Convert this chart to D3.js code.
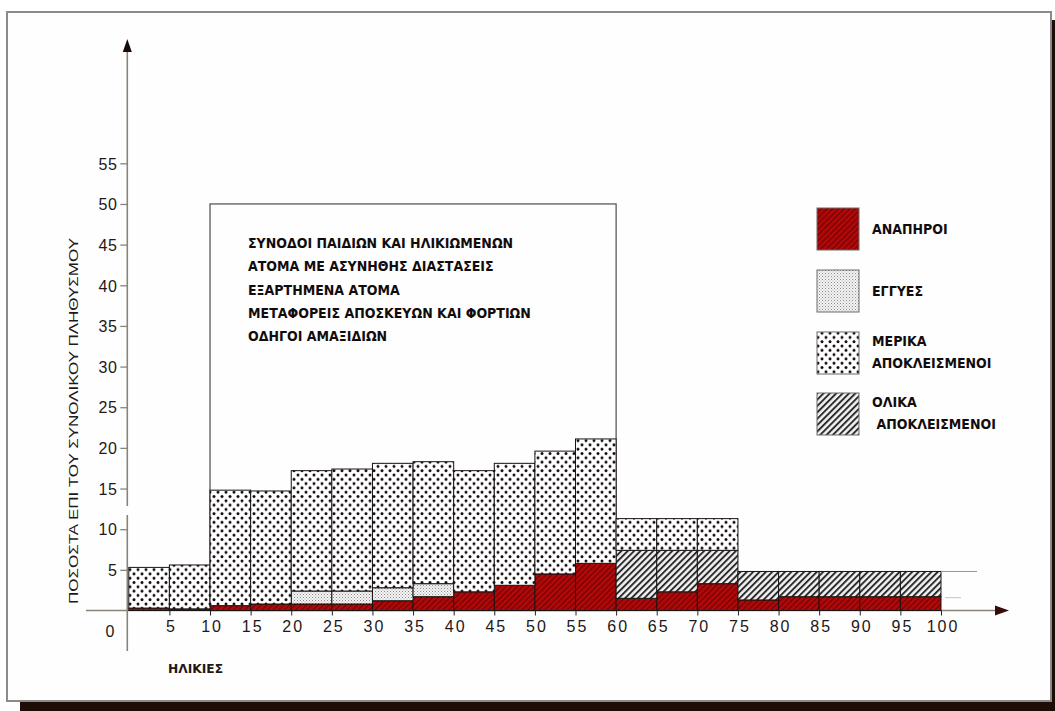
<!DOCTYPE html>
<html>
<head>
<meta charset="utf-8">
<script src="https://cdn.jsdelivr.net/npm/d3@7/dist/d3.min.js"></script>
<style>
  html, body { margin: 0; padding: 0; background: #ffffff; }
  svg { display: block; }
</style>
</head>
<body>
<svg id="chart" width="1055" height="711"></svg>
<script>
// ---------- DATA ----------
const binStarts = [0,5,10,15,20,25,30,35,40,45,50,55,60,65,70,75,80,85,90,95];
const binWidth = 5;
// ΑΝΑΠΗΡΟΙ
const disabled = [0.3,0.2,0.6,0.8,0.8,0.8,1.2,1.7,2.3,3.1,4.5,5.8,1.5,2.3,3.3,1.3,1.7,1.7,1.7,1.7];
// ΕΓΓΥΕΣ
const pregnant = [0,0,0,0,1.6,1.6,1.6,1.6,0,0,0,0,0,0,0,0,0,0,0,0];
// ΟΛΙΚΑ ΑΠΟΚΛΕΙΣΜΕΝΟΙ
const fullyExcluded = [0,0,0,0,0,0,0,0,0,0,0,0,5.9,5.1,4.1,3.5,3.1,3.1,3.1,3.1];
// ΜΕΡΙΚΑ ΑΠΟΚΛΕΙΣΜΕΝΟΙ
const partlyExcluded = [5.0,5.4,14.2,13.9,14.8,15.0,15.3,15.0,14.9,15.0,15.1,15.3,3.9,3.9,3.9,0,0,0,0,0];

const yTicks = [5,10,15,20,25,30,35,40,45,50,55];
const xTicks = [5,10,15,20,25,30,35,40,45,50,55,60,65,70,75,80,85,90,95,100];
const yTitle = "ΠΟΣΟΣΤΑ ΕΠΙ ΤΟΥ ΣΥΝΟΛΙΚΟΥ ΠΛΗΘΥΣΜΟΥ";
const xTitle = "ΗΛΙΚΙΕΣ";
const boxLines = [
  "ΣΥΝΟΔΟΙ ΠΑΙΔΙΩΝ ΚΑΙ ΗΛΙΚΙΩΜΕΝΩΝ",
  "ΑΤΟΜΑ ΜΕ ΑΣΥΝΗΘΗΣ ΔΙΑΣΤΑΣΕΙΣ",
  "ΕΞΑΡΤΗΜΕΝΑ ΑΤΟΜΑ",
  "ΜΕΤΑΦΟΡΕΙΣ ΑΠΟΣΚΕΥΩΝ ΚΑΙ ΦΟΡΤΙΩΝ",
  "ΟΔΗΓΟΙ ΑΜΑΞΙΔΙΩΝ"
];
const boxRange = [10, 60, 50]; // age from, age to, height
const seriesKeys = ["disabled","pregnant","fully","partly"];
const legendItems = [
  {key:"disabled", lines:["ΑΝΑΠΗΡΟΙ"]},
  {key:"pregnant", lines:["ΕΓΓΥΕΣ"]},
  {key:"partly",   lines:["ΜΕΡΙΚΑ","ΑΠΟΚΛΕΙΣΜΕΝΟΙ"]},
  {key:"fully",    lines:["ΟΛΙΚΑ"," ΑΠΟΚΛΕΙΣΜΕΝΟΙ"]}
];

// ---------- SETUP ----------
const svg = d3.select("#chart");
const condensed = "'Liberation Sans Narrow','DejaVu Sans Condensed','Arial Narrow',sans-serif";
const regular = "'Liberation Sans','DejaVu Sans',Arial,sans-serif";

// frame & shadow
svg.append("rect").attr("x",20).attr("y",20).attr("width",1060).attr("height",720).attr("fill","#1e0c06");
svg.append("rect").attr("x",7).attr("y",12).attr("width",1044).attr("height",689)
  .attr("fill","#fefefe").attr("stroke","#8a8a8a").attr("stroke-width",2);

// patterns
const defs = svg.append("defs");
const pRed = defs.append("pattern").attr("id","pat-disabled").attr("patternUnits","userSpaceOnUse")
  .attr("width",4).attr("height",4).attr("patternTransform","rotate(45)");
pRed.append("rect").attr("width",4).attr("height",4).attr("fill","#b00808");
pRed.append("line").attr("x1",0).attr("y1",0).attr("x2",0).attr("y2",4).attr("stroke","#420000").attr("stroke-width",1.3);

const pPreg = defs.append("pattern").attr("id","pat-pregnant").attr("patternUnits","userSpaceOnUse")
  .attr("width",3).attr("height",3);
pPreg.append("rect").attr("width",3).attr("height",3).attr("fill","#f4f4f4");
pPreg.append("rect").attr("x",0).attr("y",0).attr("width",1).attr("height",1).attr("fill","#8a8a8a");
pPreg.append("rect").attr("x",1.5).attr("y",1.5).attr("width",1).attr("height",1).attr("fill","#aaaaaa");

const pPart = defs.append("pattern").attr("id","pat-partly").attr("patternUnits","userSpaceOnUse")
  .attr("width",8).attr("height",8.6);
pPart.append("rect").attr("width",8).attr("height",8.6).attr("fill","#ffffff");
pPart.append("circle").attr("cx",2).attr("cy",2).attr("r",1.5).attr("fill","#140c0c");
pPart.append("circle").attr("cx",6).attr("cy",6.3).attr("r",1.5).attr("fill","#140c0c");

const pFull = defs.append("pattern").attr("id","pat-fully").attr("patternUnits","userSpaceOnUse")
  .attr("width",4.5).attr("height",4.5).attr("patternTransform","rotate(45)");
pFull.append("rect").attr("width",4.5).attr("height",4.5).attr("fill","#f2f2f2");
pFull.append("line").attr("x1",1).attr("y1",0).attr("x2",1).attr("y2",4.5).attr("stroke","#262626").attr("stroke-width",1.9);

const fills = {disabled:"url(#pat-disabled)", pregnant:"url(#pat-pregnant)", partly:"url(#pat-partly)", fully:"url(#pat-fully)"};

// scales
const x = d3.scaleLinear().domain([0,100]).range([128.8, 941]);
const y = d3.scaleLinear().domain([0,55]).range([610.5, 163.3]);

// data table
const table = binStarts.map((s,i)=>({start:s, disabled:disabled[i], pregnant:pregnant[i], fully:fullyExcluded[i], partly:partlyExcluded[i]}));
const stacked = d3.stack().keys(seriesKeys)(table);

// axes (gray lines)
const axisColor = "#8a8478";
svg.append("line").attr("x1",x(0)-1.5).attr("x2",x(0)-1.5).attr("y1",50).attr("y2",506).attr("stroke",axisColor).attr("stroke-width",1.6);
svg.append("line").attr("x1",x(0)-1.5).attr("x2",x(0)-1.5).attr("y1",515).attr("y2",651).attr("stroke",axisColor).attr("stroke-width",1.6);
svg.append("path").attr("d",`M${x(0)-1.5},39 L${x(0)-6},52 L${x(0)+3},52 Z`).attr("fill","#1a0a0a");
svg.append("line").attr("x1",86).attr("x2",998).attr("y1",y(0)).attr("y2",y(0)).attr("stroke",axisColor).attr("stroke-width",1.6);
svg.append("path").attr("d",`M1009,${y(0)} L995,${y(0)-5} L995,${y(0)+5} Z`).attr("fill","#3a0a0a");

// info box
svg.append("rect").attr("x",x(boxRange[0])).attr("y",y(boxRange[2]))
  .attr("width",x(boxRange[1])-x(boxRange[0])).attr("height",y(0)-y(boxRange[2]))
  .attr("fill","none").attr("stroke","#5a5a5a").attr("stroke-width",1.3);

// bars
const gBars = svg.append("g");
stacked.forEach(layer=>{
  gBars.selectAll(null).data(layer.filter(d=>d[1]-d[0]>0)).join("rect")
    .attr("x",d=>x(d.data.start))
    .attr("width",d=>x(d.data.start+binWidth)-x(d.data.start))
    .attr("y",d=>y(d[1]))
    .attr("height",d=>y(d[0])-y(d[1]))
    .attr("fill",fills[layer.key])
    .attr("stroke","#1a1414").attr("stroke-width",1);
});

// extension line to the right of last bar
const lastTotal = disabled[19]+pregnant[19]+fullyExcluded[19]+partlyExcluded[19];
svg.append("line").attr("x1",x(100)).attr("x2",x(100)+36).attr("y1",y(lastTotal)).attr("y2",y(lastTotal))
  .attr("stroke","#9a9490").attr("stroke-width",1);
svg.append("line").attr("x1",x(100)+4).attr("x2",x(100)+20).attr("y1",y(disabled[19])+1).attr("y2",y(disabled[19])+1)
  .attr("stroke","#c8c0c0").attr("stroke-width",1);

// y ticks
const yAxis = d3.axisLeft(y).tickValues(yTicks).tickSize(7).tickFormat(d3.format("d"));
const gy = svg.append("g").attr("transform",`translate(${x(0)-1.5},0)`).call(yAxis);
gy.select(".domain").remove();
gy.selectAll(".tick line").attr("stroke","#8a8478").attr("stroke-width",1.3);
gy.selectAll(".tick text").attr("font-family",regular).attr("font-size",16).attr("fill","#1e1818")
  .attr("letter-spacing",0.5).attr("x",-10).attr("dy","0.36em");

// x ticks
const xAxis = d3.axisBottom(x).tickValues(xTicks).tickSize(5).tickFormat(d3.format("d"));
const gx = svg.append("g").attr("transform",`translate(0,${y(0)})`).call(xAxis);
gx.select(".domain").remove();
gx.selectAll(".tick line").attr("stroke","#2a2222").attr("stroke-width",1);
gx.selectAll(".tick text").attr("font-family",regular).attr("font-size",16).attr("fill","#1e1818")
  .attr("letter-spacing",2).attr("y",10).attr("dx","1.5");

// zero label
svg.append("text").attr("x",110).attr("y",637).attr("text-anchor","middle")
  .attr("font-family",regular).attr("font-size",16).attr("fill","#1e1818").text("0");

// axis titles
svg.append("text").attr("transform","translate(78,421) rotate(-90)").attr("text-anchor","middle")
  .attr("font-family",regular).attr("font-size",13).attr("fill","#1e1818")
  .attr("textLength",366).attr("lengthAdjust","spacingAndGlyphs").text(yTitle);
svg.append("text").attr("x",168).attr("y",673)
  .attr("font-family",condensed).attr("font-weight","bold").attr("font-size",13).attr("fill","#1e1818")
  .attr("textLength",55).attr("lengthAdjust","spacingAndGlyphs").text(xTitle);

// box text
svg.append("g").selectAll("text").data(boxLines).join("text")
  .attr("x",248).attr("y",(d,i)=>248+i*23.3)
  .attr("font-family",condensed).attr("font-weight","bold").attr("font-size",14).attr("fill","#120c0c")
  .text(d=>d);

// legend
const legendY = [208,270,332,393];
const lg = svg.append("g");
legendItems.forEach((item,i)=>{
  lg.append("rect").attr("x",817).attr("y",legendY[i]).attr("width",42).attr("height",42)
    .attr("fill",fills[item.key]).attr("stroke","#6a6a6a").attr("stroke-width",1);
  const ys = item.lines.length===1 ? [legendY[i]+26] : [legendY[i]+14, legendY[i]+36];
  item.lines.forEach((t,j)=>{
    lg.append("text").attr("x",872).attr("y",ys[j]).attr("xml:space","preserve")
      .attr("font-family",condensed).attr("font-weight","bold").attr("font-size",14).attr("fill","#120c0c")
      .text(t);
  });
});
</script>
</body>
</html>
